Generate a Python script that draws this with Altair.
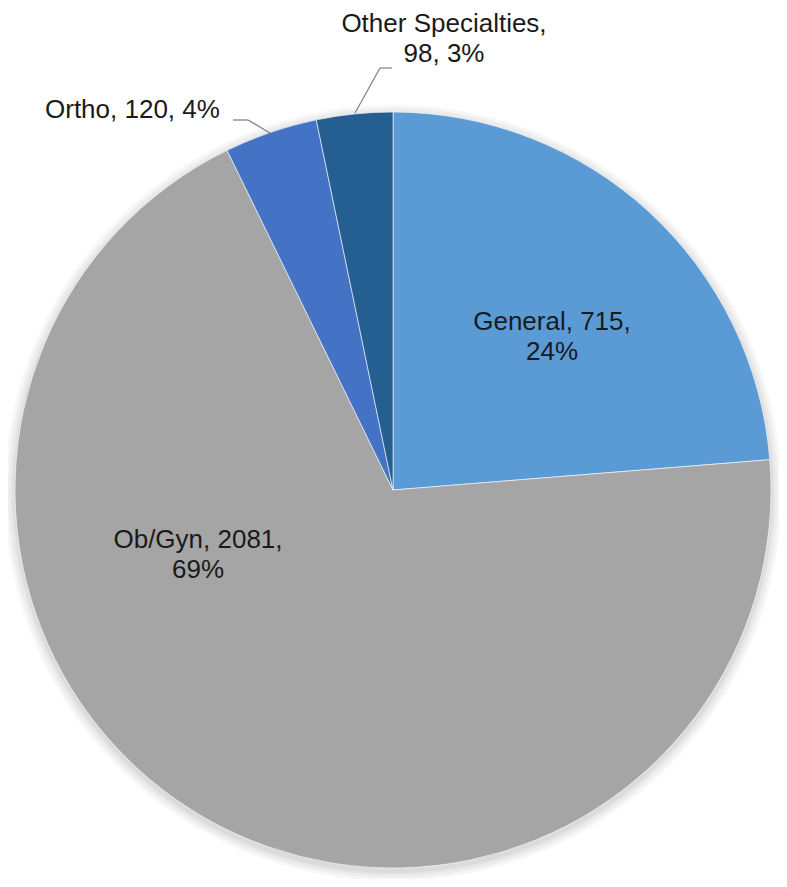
import altair as alt
import pandas as pd

categories = ["General", "Ob/Gyn", "Ortho", "Other Specialties"]
counts = [715, 2081, 120, 98]
colors = ["#5B9BD5", "#A5A5A5", "#4472C4", "#255E91"]

total = sum(counts)
pcts = [f"{round(c / total * 100)}%" for c in counts]

df = pd.DataFrame({
    "category": categories,
    "count": counts,
    "order": list(range(len(categories))),
    "pct": pcts,
})

OX, OY = 8, 8  # page margin offset
CX, CY, R = 393 - OX, 490 - OY, 378

base = alt.Chart(df)
one = alt.Chart(pd.DataFrame({"a": [0]}))

# soft shadow around the pie
shadows = [
    one.mark_arc(theta=0, theta2=6.2832, radius=R + d, color="#000000", opacity=0.035).encode(
        x=alt.value(CX), y=alt.value(CY + 3)
    )
    for d in (10, 7, 4, 2)
]

pie = base.mark_arc(radius=R, stroke="white", strokeWidth=0.6).encode(
    theta=alt.Theta("count:Q", stack=True),
    order=alt.Order("order:Q"),
    color=alt.Color("category:N", scale=alt.Scale(domain=categories, range=colors), legend=None),
    x=alt.value(CX), y=alt.value(CY),
)

FONT = "Liberation Sans"
FS = 26

def label(cat, lines, px, py, align):
    return base.transform_filter(alt.datum.category == cat).mark_text(
        font=FONT, fontSize=FS, color="#1a1a1a", align=align,
        baseline="alphabetic", lineHeight=30,
    ).encode(
        text=alt.value(lines),
        x=alt.value(px - OX), y=alt.value(py - OY),
    )

lab_general = label("General", [f"General, {counts[0]},", pcts[0]], 552, 330, "center")
lab_ob = label("Ob/Gyn", [f"Ob/Gyn, {counts[1]},", pcts[1]], 198, 548, "center")
lab_ortho = label("Ortho", [f"Ortho, {counts[2]}, {pcts[2]}"], 45, 118, "left")
lab_other = label("Other Specialties", ["Other Specialties,", f"{counts[3]}, {pcts[3]}"], 444, 32, "center")

def seg(x1, y1, x2, y2):
    return one.mark_rule(color="#7f7f7f", strokeWidth=1.2).encode(
        x=alt.value(x1 - OX), y=alt.value(y1 - OY), x2=alt.value(x2 - OX), y2=alt.value(y2 - OY)
    )

leaders = [
    seg(233, 120, 248, 120), seg(248, 120, 270, 133),
    seg(392, 68, 380, 68), seg(380, 68, 355, 113),
]

chart = alt.layer(*shadows, pie, lab_general, lab_ob, lab_ortho, lab_other, *leaders).properties(
    width=771, height=871, padding=0, autosize=alt.AutoSizeParams(type="none"),
).configure_view(stroke=None)

chart.save("out.html", embed_options={"renderer": "svg", "actions": False})
